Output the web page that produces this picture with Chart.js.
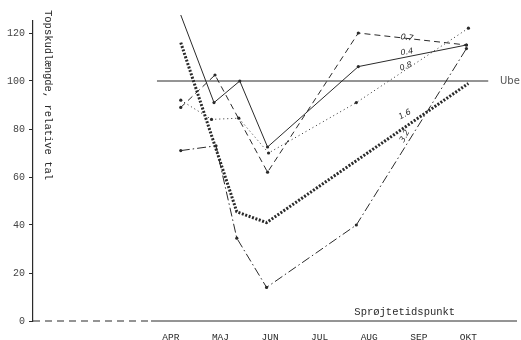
<!DOCTYPE html>
<html>
<head>
<meta charset="utf-8">
<script src="https://cdn.jsdelivr.net/npm/chart.js@4"></script>
<style>
  body { margin: 0; background: #fff; }
  #wrap { width: 521px; height: 340px; }
</style>
</head>
<body>
<div id="wrap"><canvas id="c" width="521" height="340"></canvas></div>
<script>
// month ticks (x value = month number)
const monthNames = ['APR', 'MAJ', 'JUN', 'JUL', 'AUG', 'SEP', 'OKT'];
const monthNums = [4, 5, 6, 7, 8, 9, 10];
const yTicks = [0, 20, 40, 60, 80, 100, 120];

// spray time (month, fractional) and relative shoot length per dose
const dose04X = [4.2, 4.87, 5.39, 5.95, 7.78, 9.96];
const dose04Y = [127.5, 91, 100, 72.5, 106, 115];
const dose07X = [4.2, 4.89, 5.95, 7.78, 9.96];
const dose07Y = [89, 102.5, 62, 120, 115];
const dose08X = [4.2, 4.82, 5.37, 5.97, 7.74, 10.0];
const dose08Y = [92, 84, 84.5, 70, 91, 122];
const dose16X = [4.2, 5.33, 5.93, 10.0];
const dose16Y = [116, 45.5, 41, 99];
const dose32X = [4.2, 4.91, 5.33, 5.93, 7.74, 9.96];
const dose32Y = [71, 73, 34.5, 14, 40, 113.5];
const ubeX = [3.72, 10.4];
const ubeY = [100, 100];

// line labels written on the curves
const curveLabels = ['0.7', '0.4', '0.8', '1.6', '3.2'];
const curveLabelX = [8.76, 8.76, 8.74, 8.72, 8.72];
const curveLabelY = [118, 112, 106, 86, 77];
const curveLabelRot = [8, -10, -20, -28, -62];

const ink = '#2a2a2a';
const mono = '"Liberation Mono", "DejaVu Sans Mono", monospace';

function pts(xs, ys) {
    return xs.map((x, i) => ({ x: x, y: ys[i] }));
}

const decor = {
    id: 'decor',
    afterDraw(chart) {
        const ctx = chart.ctx;
        const xs = chart.scales.x, ys = chart.scales.y;
        const area = chart.chartArea;
        ctx.save();
        ctx.strokeStyle = ink;
        ctx.fillStyle = ink;
        // x axis: dashed on the left, solid from april on
        ctx.lineWidth = 1.2;
        ctx.setLineDash([7, 5]);
        ctx.beginPath();
        ctx.moveTo(area.left, area.bottom);
        ctx.lineTo(xs.getPixelForValue(3.6), area.bottom);
        ctx.stroke();
        ctx.setLineDash([]);
        ctx.lineWidth = 1;
        ctx.beginPath();
        ctx.moveTo(xs.getPixelForValue(3.6), area.bottom);
        ctx.lineTo(area.right, area.bottom);
        ctx.stroke();

        // y title, reading downwards
        ctx.font = '10.5px ' + mono;
        ctx.textAlign = 'left';
        ctx.textBaseline = 'middle';
        ctx.save();
        ctx.translate(48, 10);
        ctx.rotate(Math.PI / 2);
        ctx.fillText('Topskudlængde, relative tal', 0, 0);
        ctx.restore();

        // x title inside plot
        ctx.fillText('Sprøjtetidspunkt', xs.getPixelForValue(7.7), 312);

        // Ube
        ctx.font = '10px "DejaVu Sans", sans-serif';
        ctx.fillStyle = '#555';
        ctx.fillText('Ube', 500, ys.getPixelForValue(100));

        // curve labels
        ctx.fillStyle = ink;
        ctx.font = 'italic 8px "DejaVu Sans", sans-serif';
        ctx.textAlign = 'center';
        curveLabels.forEach((t, i) => {
            ctx.save();
            ctx.translate(xs.getPixelForValue(curveLabelX[i]), ys.getPixelForValue(curveLabelY[i]));
            ctx.rotate(curveLabelRot[i] * Math.PI / 180);
            ctx.fillText(t, 0, 0);
            ctx.restore();
        });
        ctx.restore();
    }
};

const common = {
    borderColor: ink,
    backgroundColor: ink,
    borderWidth: 1,
    pointRadius: 1.6,
    pointBorderWidth: 0,
    fill: false,
    tension: 0,
    clip: false
};

new Chart(document.getElementById('c').getContext('2d'), {
    type: 'line',
    data: {
        datasets: [
            Object.assign({}, common, { label: 'Ube', data: pts(ubeX, ubeY), pointRadius: 0 }),
            Object.assign({}, common, { label: '0.4', data: pts(dose04X, dose04Y) }),
            Object.assign({}, common, { label: '0.7', data: pts(dose07X, dose07Y), borderDash: [6, 4] }),
            Object.assign({}, common, { label: '0.8', data: pts(dose08X, dose08Y), borderDash: [1, 3] }),
            Object.assign({}, common, { label: '1.6', data: pts(dose16X, dose16Y), borderDash: [2, 1.6], borderWidth: 3, pointRadius: 0 }),
            Object.assign({}, common, { label: '3.2', data: pts(dose32X, dose32Y), borderDash: [9, 3, 1.5, 3] })
        ]
    },
    options: {
        responsive: false,
        animation: false,
        devicePixelRatio: 1,
        layout: { padding: { top: 21, left: 0, right: 0, bottom: 0 } },
        plugins: {
            legend: { display: false },
            tooltip: { enabled: false }
        },
        scales: {
            x: {
                type: 'linear',
                min: 1.22,
                max: 10.98,
                afterFit: scale => { scale.height = 19; },
                afterBuildTicks: scale => {
                    scale.ticks = monthNums.map(v => ({ value: v }));
                },
                grid: { display: false },
                border: { display: false },
                ticks: {
                    autoSkip: false,
                    maxRotation: 0,
                    padding: 3,
                    color: ink,
                    font: { family: mono, size: 9.5 },
                    callback: v => monthNames[monthNums.indexOf(v)]
                }
            },
            y: {
                min: 0,
                max: 125,
                afterFit: scale => { scale.width = 33; },
                afterBuildTicks: scale => {
                    scale.ticks = yTicks.map(v => ({ value: v }));
                },
                grid: { drawOnChartArea: false, tickLength: 4, color: ink },
                border: { display: true, color: ink, width: 1.2 },
                ticks: {
                    padding: 4,
                    color: '#444',
                    font: { family: mono, size: 10 }
                }
            }
        }
    },
    plugins: [decor]
});
</script>
</body>
</html>
